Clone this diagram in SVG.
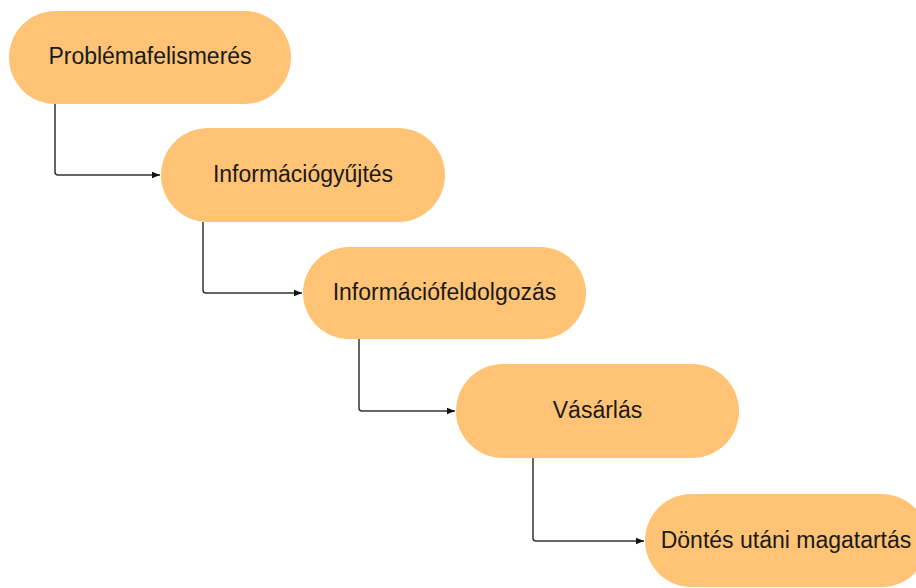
<svg xmlns="http://www.w3.org/2000/svg" width="916" height="588" viewBox="0 0 916 588">
<defs>
<style>
.node{fill:#FEC374;stroke:none}
.lbl{font-family:"Liberation Sans",Arial,sans-serif;font-size:23px;fill:#1a1a1a;text-anchor:middle;dominant-baseline:central}
.conn{fill:none;stroke:#333333;stroke-width:1.5;stroke-linejoin:round}
</style>
<marker id="arr" viewBox="0 0 10 10" refX="10" refY="5" markerWidth="8" markerHeight="8" markerUnits="userSpaceOnUse" orient="auto">
<path d="M0,1 L10,5 L0,9 z" fill="#111111"/>
</marker>
</defs>
<rect width="916" height="588" fill="#ffffff"/>
<g id="connectors">
<path class="conn" d="M55,104 V172 Q55,175 58,175 H160" marker-end="url(#arr)"/>
<path class="conn" d="M203,222 V290 Q203,293 206,293 H302" marker-end="url(#arr)"/>
<path class="conn" d="M359,339 V408 Q359,411 362,411 H455" marker-end="url(#arr)"/>
<path class="conn" d="M533,458 V538 Q533,541 536,541 H644" marker-end="url(#arr)"/>
</g>
<g id="node1">
<rect class="node" x="9" y="11" width="282" height="93" rx="46.5"/>
<text class="lbl" x="150" y="56">Problémafelismerés</text>
</g>
<g id="node2">
<rect class="node" x="161" y="128" width="284" height="94" rx="47"/>
<text class="lbl" x="303" y="174">Információgyűjtés</text>
</g>
<g id="node3">
<rect class="node" x="303" y="247" width="283" height="92" rx="46"/>
<text class="lbl" x="444.5" y="292">Információfeldolgozás</text>
</g>
<g id="node4">
<rect class="node" x="456" y="364" width="283" height="94" rx="47"/>
<text class="lbl" x="597.5" y="410">Vásárlás</text>
</g>
<g id="node5">
<rect class="node" x="645" y="494" width="283" height="93" rx="46.5"/>
<text class="lbl" x="786" y="540">Döntés utáni magatartás</text>
</g>
</svg>
